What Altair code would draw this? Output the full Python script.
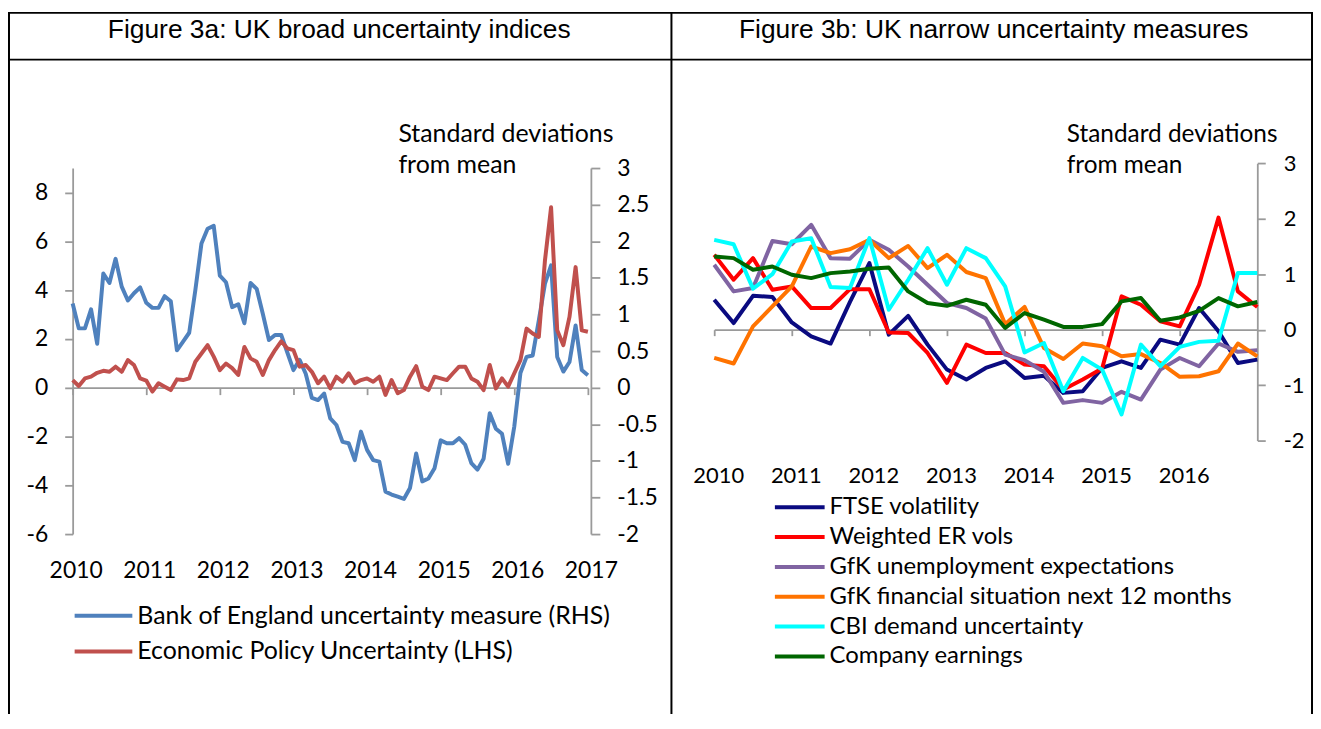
import altair as alt
import pandas as pd

W, H = 1312, 708
FONT = "Lato"
AX = "#9a9a9a"

# ---------------- Figure 3a (monthly, Jan 2010 - Jan 2017) ----------------
MONTHS = [f"{y}-{m:02d}" for y in range(2010, 2017) for m in range(1, 13)] + ["2017-01"]

# Bank of England uncertainty measure, standard deviations (RHS)
BOE = [1.15, 0.81, 0.81, 1.07, 0.60, 1.56, 1.43, 1.76, 1.38, 1.19,
       1.29, 1.37, 1.16, 1.09, 1.09, 1.25, 1.18, 0.51, 0.63, 0.75,
       1.33, 1.97, 2.17, 2.21, 1.53, 1.44, 1.10, 1.14, 0.88, 1.43,
       1.35, 1.01, 0.65, 0.72, 0.72, 0.48, 0.24, 0.38, 0.19, -0.14,
       -0.17, -0.08, -0.42, -0.51, -0.74, -0.76, -0.99, -0.60, -0.85, -0.99,
       -1.01, -1.42, -1.46, -1.49, -1.52, -1.37, -0.90, -1.28, -1.24, -1.10,
       -0.72, -0.76, -0.76, -0.69, -0.78, -1.03, -1.12, -0.97, -0.35, -0.56,
       -0.63, -1.04, -0.53, 0.20, 0.42, 0.44, 0.92, 1.42, 1.67, 0.42,
       0.22, 0.35, 0.85, 0.24, 0.17]

# Economic Policy Uncertainty (LHS)
EPU = [0.31, 0.07, 0.38, 0.45, 0.61, 0.69, 0.65, 0.86, 0.65, 1.13,
       0.93, 0.38, 0.29, -0.16, 0.18, 0.04, -0.10, 0.34, 0.31, 0.38,
       1.06, 1.40, 1.74, 1.27, 0.72, 0.99, 0.80, 0.52, 1.67, 1.20,
       1.06, 0.52, 1.13, 1.54, 1.90, 1.61, 1.54, 0.86, 0.93, 0.65,
       0.18, 0.45, -0.03, 0.45, 0.24, 0.59, 0.18, 0.31, 0.38, 0.24,
       0.45, -0.30, 0.31, -0.23, -0.10, 0.45, 0.88, 0.04, -0.10, 0.45,
       0.38, 0.31, 0.59, 0.86, 0.86, 0.38, 0.24, -0.10, 0.93, -0.03,
       0.38, 0.04, 0.59, 1.13, 2.42, 2.22, 2.08, 5.21, 7.39, 2.35,
       1.74, 2.90, 4.94, 2.35, 2.29]

# ---------------- Figure 3b (quarterly, 2010Q1 - 2017Q1) ----------------
QUARTERS = [f"{y}Q{q}" for y in range(2010, 2017) for q in range(1, 5)] + ["2017Q1"]

FTSE = [0.54, 0.12, 0.61, 0.59, 0.13, -0.12, -0.25, 0.50, 1.20, -0.09,
        0.25, -0.27, -0.72, -0.90, -0.69, -0.57, -0.87, -0.83, -1.14, -1.11,
        -0.69, -0.57, -0.69, -0.18, -0.27, 0.39, -0.03, -0.60, -0.54]
ERVOL = [1.35, 0.90, 1.29, 0.72, 0.78, 0.39, 0.39, 0.73, 0.73, -0.05,
         -0.06, -0.42, -0.96, -0.27, -0.42, -0.42, -0.63, -0.66, -1.08, -0.90,
         -0.70, 0.60, 0.45, 0.15, 0.06, 0.81, 2.02, 0.69, 0.41]
GFK_UNEMP = [1.17, 0.69, 0.75, 1.60, 1.54, 1.89, 1.29, 1.28, 1.62, 1.44,
             1.14, 0.81, 0.48, 0.39, 0.20, -0.45, -0.55, -0.76, -1.32, -1.27,
             -1.32, -1.12, -1.26, -0.72, -0.51, -0.66, -0.25, -0.40, -0.37]
GFK_FIN = [-0.51, -0.61, 0.06, 0.42, 0.78, 1.50, 1.38, 1.45, 1.62, 1.29,
           1.51, 1.11, 1.35, 1.04, 0.93, 0.10, 0.41, -0.33, -0.53, -0.25,
           -0.30, -0.48, -0.44, -0.60, -0.85, -0.84, -0.75, -0.25, -0.48]
CBI = [1.62, 1.54, 0.74, 1.00, 1.59, 1.65, 0.77, 0.75, 1.65, 0.36,
       0.90, 1.47, 0.81, 1.47, 1.29, 0.78, -0.41, -0.24, -1.11, -0.51,
       -0.72, -1.53, -0.27, -0.66, -0.31, -0.22, -0.20, 1.02, 1.02]
EARN = [1.32, 1.29, 1.08, 1.14, 0.99, 0.93, 1.02, 1.05, 1.10, 1.12,
        0.69, 0.48, 0.43, 0.54, 0.45, 0.03, 0.30, 0.18, 0.05, 0.05,
        0.10, 0.51, 0.57, 0.16, 0.22, 0.34, 0.57, 0.42, 0.50]

NAMES_A = ["Bank of England uncertainty measure (RHS)", "Economic Policy Uncertainty (LHS)"]
COLORS_A = ["#4F81BD", "#C0504D"]
NAMES_B = ["FTSE volatility", "Weighted ER vols", "GfK unemployment expectations",
           "GfK financial situation next 12 months", "CBI demand uncertainty", "Company earnings"]
COLORS_B = ["#0A0A80", "#FF0000", "#8064A2", "#FF7300", "#00FFFF", "#006600"]
SERIES_B = [FTSE, ERVOL, GFK_UNEMP, GFK_FIN, CBI, EARN]

YEARS_A = list(range(2010, 2018))
YEARS_B = list(range(2010, 2017))
LHS_TICKS = [-6, -4, -2, 0, 2, 4, 6, 8]
RHS_TICKS = [-2, -1.5, -1, -0.5, 0, 0.5, 1, 1.5, 2, 2.5, 3]
B_TICKS = [-2, -1, 0, 1, 2, 3]
TITLE_A = "Figure 3a: UK broad uncertainty indices"
TITLE_B = "Figure 3b: UK narrow uncertainty measures"
UNIT = ["Standard deviations", "from mean"]

assert len(MONTHS) == len(BOE) == len(EPU)
assert all(len(s) == len(QUARTERS) for s in SERIES_B)


def month_pos(s):
    y, m = s.split("-")
    return int(y) + (int(m) - 1) / 12


def quarter_pos(s):
    y, q = s.split("Q")
    return int(y) + (int(q) - 1) / 4


dfA = pd.DataFrame({"t": [month_pos(m) for m in MONTHS], "boe": BOE, "epu": EPU})
dfB = pd.DataFrame({"t": [quarter_pos(q) for q in QUARTERS]})
for i, s in enumerate(SERIES_B):
    dfB[f"s{i}"] = s
one = pd.DataFrame({"a": [0]})

# scales (explicit pixel ranges place the two panels inside one canvas)
xA = alt.Scale(domain=[2010, 2017], range=[65, 583], nice=False, zero=False)
yLHS = alt.Scale(domain=[-6, 9], range=[527, 159], nice=False, zero=False)
yRHS = alt.Scale(domain=[-2, 3], range=[527, 159], nice=False, zero=False)
xB = alt.Scale(domain=[2010, 2017], range=[710, 1256], nice=False, zero=False)
yB = alt.Scale(domain=[-2, 3], range=[433, 154.25], nice=False, zero=False)

common_axis = dict(domainColor=AX, domainWidth=1.8, tickColor=AX, tickWidth=1.8,
                   labelFont=FONT, labelColor="black", grid=False,
                   labelExpr="'' + datum.value")

zeroA = 527 - 6 / 15 * 368
zeroB = 433 - 2 / 5 * (433 - 154.25)

axis_xA = alt.Axis(orient="bottom", offset=zeroA - H, values=YEARS_A, tickSize=7,
                   labelPadding=166, labelFontSize=23, labelOffset=3, labelFlush=False,
                   labelOverlap=False, title=None, **common_axis)
axis_yLHS = alt.Axis(orient="left", offset=-65, values=LHS_TICKS, tickSize=8,
                     labelPadding=17, labelFontSize=23, title=None, **common_axis)
axis_yRHS = alt.Axis(orient="right", offset=586 - W, values=RHS_TICKS, tickSize=9,
                     labelPadding=17, labelFontSize=23, title=UNIT, titleAngle=0,
                     titleAlign="left", titleBaseline="alphabetic", titleX=-194, titleY=132,
                     titleFont=FONT, titleFontSize=25, titleFontWeight="normal",
                     titleColor="black", titleLineHeight=31, **common_axis)
axis_xB = alt.Axis(orient="bottom", offset=zeroB - H, values=YEARS_B, tickSize=6,
                   labelPadding=131, labelFontSize=22, labelOffset=4, labelFlush=False,
                   labelOverlap=False, title=None, **common_axis)
axis_yB = alt.Axis(orient="right", offset=1256 - W, values=B_TICKS, tickSize=8,
                   labelPadding=18, labelFontSize=22, title=UNIT, titleAngle=0,
                   titleAlign="left", titleBaseline="alphabetic", titleX=-192, titleY=132,
                   titleFont=FONT, titleFontSize=24.5, titleFontWeight="normal",
                   titleColor="black", titleLineHeight=31, **common_axis)

layers = []

# table borders
def hrule(y, x0, x1):
    return alt.Chart(one).mark_rule(color="black", strokeWidth=2).encode(
        x=alt.value(x0), x2=alt.value(x1), y=alt.value(y))


def vrule(x, y0, y1):
    return alt.Chart(one).mark_rule(color="black", strokeWidth=2).encode(
        x=alt.value(x), y=alt.value(y0), y2=alt.value(y1))


layers += [hrule(3, 0, W), hrule(50, 0, W), vrule(1, 3, H), vrule(667, 3, H), vrule(W - 1, 3, H)]

# cell titles
for txt, cx in [(TITLE_A, 333), (TITLE_B, 991)]:
    layers.append(alt.Chart(one).mark_text(font="Liberation Sans", fontSize=26.5, color="black",
                                           align="center", baseline="middle").encode(
        x=alt.value(cx), y=alt.value(20), text=alt.value(txt)))

# Figure 3a lines
layers.append(alt.Chart(dfA).mark_line(color=COLORS_A[0], strokeWidth=4, strokeJoin="round").encode(
    x=alt.X("t:Q", scale=xA, axis=None),
    y=alt.Y("boe:Q", scale=yRHS, axis=axis_yRHS)))
layers.append(alt.Chart(dfA).mark_line(color=COLORS_A[1], strokeWidth=4, strokeJoin="round").encode(
    x=alt.X("t:Q", scale=xA, axis=axis_xA),
    y=alt.Y("epu:Q", scale=yLHS, axis=axis_yLHS)))

# Figure 3b lines
for i, col in enumerate(COLORS_B):
    layers.append(alt.Chart(dfB).mark_line(color=col, strokeWidth=4, strokeJoin="round").encode(
        x=alt.X("t:Q", scale=xB, axis=axis_xB if i == 0 else None),
        y=alt.Y(f"s{i}:Q", scale=yB, axis=axis_yB if i == 0 else None)))


# legends
def legend(names, colors, y0, y1, x0, x1, xt, fs):
    d = pd.DataFrame({"name": names})
    ys = alt.Scale(type="point", domain=names, range=[y0, y1], padding=0)
    cs = alt.Scale(domain=names, range=colors)
    sw = alt.Chart(d).mark_rule(strokeWidth=4).encode(
        x=alt.value(x0), x2=alt.value(x1),
        y=alt.Y("name:N", scale=ys, axis=None),
        color=alt.Color("name:N", scale=cs, legend=None))
    tx = alt.Chart(d).mark_text(font=FONT, fontSize=fs, color="black", align="left",
                                baseline="middle").encode(
        x=alt.value(xt), y=alt.Y("name:N", scale=ys, axis=None), text="name:N")
    return [sw, tx]


layers += legend(NAMES_A, COLORS_A, 609, 645, 67, 125, 130, 25)
layers += legend(NAMES_B, COLORS_B, 500, 650, 771, 821, 826, 24)

chart = alt.layer(*layers).resolve_scale(
    x="independent", y="independent", color="independent"
).resolve_axis(x="independent", y="independent").properties(
    width=W, height=H, padding=0, background="white",
    autosize=alt.AutoSizeParams(type="none")
).configure_view(strokeWidth=0, stroke="transparent")

chart.save("out.html", embed_options={"renderer": "svg", "actions": False})
